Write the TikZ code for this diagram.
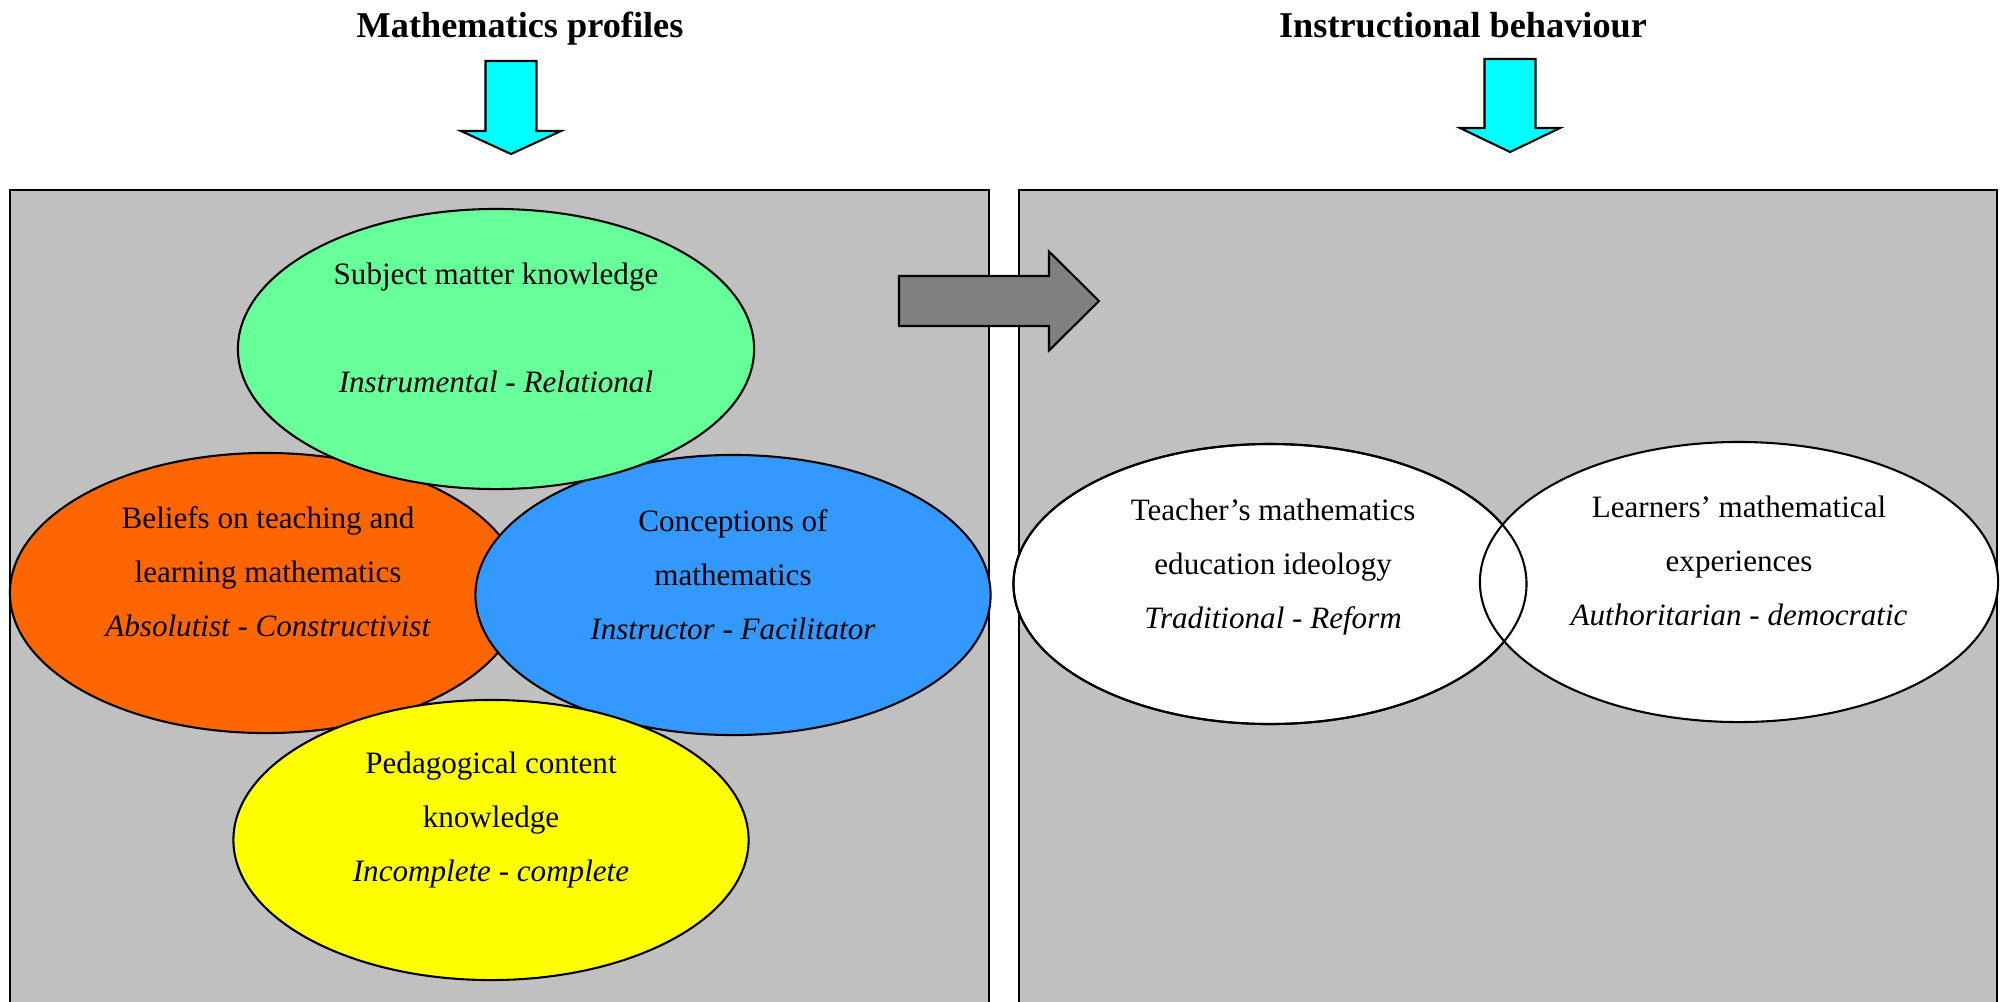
\documentclass[tikz,border=0pt]{standalone}
\usepackage{fontspec}
\setmainfont{Liberation Serif}
\usetikzlibrary{shapes.geometric,positioning}

\definecolor{smkGreen}{HTML}{66FF99}
\definecolor{beliefOrange}{HTML}{FF6600}
\definecolor{concBlue}{HTML}{3399FF}
\definecolor{pckYellow}{HTML}{FFFF00}
\definecolor{panelGrey}{HTML}{C0C0C0}
\definecolor{linkGrey}{HTML}{808080}
\definecolor{headCyan}{HTML}{00FFFF}

% one pixel of the 2006 x 1001 layout
\newcommand{\pxu}{0.3861pt}

\tikzset{
  panel/.style={draw, fill=panelGrey, line width=0.8pt, inner sep=0, anchor=north west,
    minimum height=840*\pxu},
  blob/.style={ellipse, draw, line width=0.8pt, inner sep=0,
    minimum width=515*\pxu, minimum height=280*\pxu},
  txt/.style={align=center, inner sep=0, font=\fontsize{12}{20.8}\selectfont},
  heading/.style={anchor=base, inner sep=0, font=\fontsize{14}{16}\selectfont\bfseries},
  blockarrow/.style={draw, line width=0.8pt, line join=miter}
}

\begin{document}
\begin{tikzpicture}[x=0.013570cm,y=-0.013570cm]

  \useasboundingbox (0,0) rectangle (2006,1001);

  % Headings

  \node[heading] (profTitle) at (520,37)  {Mathematics profiles} ; %
  \node[heading] (behTitle)  at (1463,37) {Instructional behaviour} ; %

  \coordinate (profTip) at (511,154) ;
  \coordinate (behTip)  at (1510,152) ;

  \draw[blockarrow, fill=headCyan] (profTip) -- ++(-50,-23) -- ++(24.5,0) -- ++(0,-70)
    -- ++(51,0) -- ++(0,70) -- ++(24.5,0) -- cycle ;
  \draw[blockarrow, fill=headCyan] (behTip) -- ++(-50,-24) -- ++(24.5,0) -- ++(0,-69)
    -- ++(51,0) -- ++(0,69) -- ++(24.5,0) -- cycle ;

  % Panels

  \node[panel, minimum width=979*\pxu] (profPanel) at (9,189)    {} ; %
  \node[panel, minimum width=978*\pxu] (behPanel)  at (1018,189) {} ; %

  \coordinate (linkTip) at (1099,301) ;
  \draw[blockarrow, fill=linkGrey] (linkTip) -- ++(-50,-49.5) -- ++(0,24.5) -- ++(-150,0)
    -- ++(0,50) -- ++(150,0) -- ++(0,24.5) -- cycle ;

  % Mathematics profiles

  \node[blob, fill=beliefOrange, minimum width=512*\pxu] (beliefs)     at (266,593) {} ; %
  \node[blob, fill=concBlue]                             (conceptions) at (733,595) {} ; %
  \node[blob, fill=smkGreen, minimum width=516*\pxu]     (subject)     at (496,349) {} ; %
  \node[blob, fill=pckYellow]                            (pedagogy)    at (491,840) {} ; %

  \node[txt] (subjectTxt) at ([yshift=8.1pt]subject)
    {Subject matter knowledge\strut\\\strut\\\textit{Instrumental - Relational}\strut} ; %
  \node[txt] (beliefsTxt) at ([xshift=0.8pt,yshift=8.1pt]beliefs)
    {Beliefs on teaching and\strut\\learning mathematics\strut\\\textit{Absolutist - Constructivist}\strut} ; %
  \node[txt] (conceptionsTxt) at ([yshift=7.9pt]conceptions)
    {Conceptions of\strut\\mathematics\strut\\\textit{Instructor - Facilitator}\strut} ; %
  \node[txt] (pedagogyTxt) at ([yshift=8.9pt]pedagogy)
    {Pedagogical content\strut\\knowledge\strut\\\textit{Incomplete - complete}\strut} ; %

  % Instructional behaviour

  \node[blob, fill=white, minimum width=513*\pxu] (ideology)   at (1270,584) {} ; %
  \node[blob, fill=white, minimum width=518*\pxu] (experience) at (1739,582) {} ; %
  \draw[line width=0.8pt] (ideology.center) ellipse [x radius=256.5, y radius=140] ;

  \node[txt] (ideologyTxt) at ([xshift=1.2pt,yshift=7.9pt]ideology)
    {Teacher’s mathematics\strut\\education ideology\strut\\\textit{Traditional - Reform}\strut} ; %
  \node[txt] (experienceTxt) at ([yshift=8.1pt]experience)
    {Learners’ mathematical\strut\\experiences\strut\\\textit{Authoritarian - democratic}\strut} ; %

\end{tikzpicture}
\end{document}
